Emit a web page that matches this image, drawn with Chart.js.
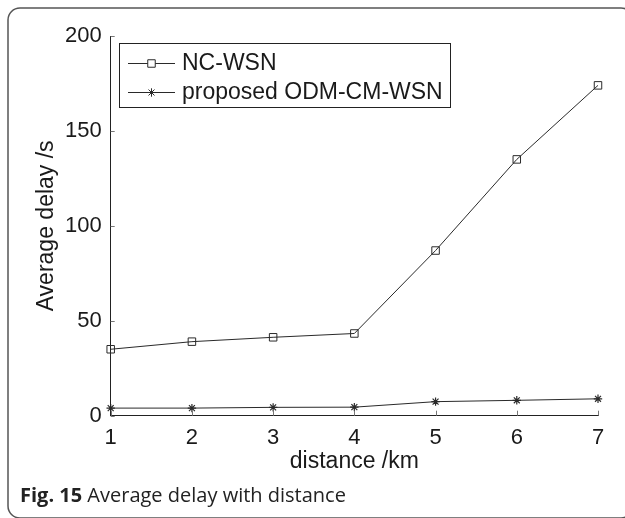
<!DOCTYPE html>
<html>
<head>
<meta charset="utf-8">
<script src="https://cdn.jsdelivr.net/npm/chart.js@4.4.1/dist/chart.umd.min.js"></script>
<style>
  html, body { margin: 0; padding: 0; background: #ffffff; }
  #wrap { width: 625px; height: 518px; position: relative; }
</style>
</head>
<body>
<div id="wrap"><canvas id="c" width="625" height="518"></canvas></div>
<script>
// ---- data ----
const distances = ['1', '2', '3', '4', '5', '6', '7'];
const ncWsn = [35, 39, 41.3, 43.3, 87, 135, 174];
const proposed = [4, 4, 4.4, 4.5, 7.4, 8.1, 8.9];
const seriesNames = ['NC-WSN', 'proposed ODM-CM-WSN'];
const yTicks = [0, 50, 100, 150, 200];
const xTitle = 'distance /km';
const yTitle = 'Average delay /s';
const captionBold = 'Fig. 15';
const captionText = ' Average delay with distance';

const FONT = 'Liberation Sans, Arial, Helvetica, sans-serif';
const LINE = '#2a2a2a';

const framePlugin = {
  id: 'frame',
  beforeDraw(chart) {
    const ctx = chart.ctx;
    ctx.save();
    ctx.fillStyle = '#ffffff';
    ctx.fillRect(0, 0, chart.width, chart.height);
    ctx.strokeStyle = '#555555';
    ctx.lineWidth = 1.5;
    const x0 = 8, y0 = 8, x1 = 633, y1 = 518, r = 12;
    ctx.beginPath();
    ctx.moveTo(x0 + r, y0);
    ctx.lineTo(x1 - r, y0);
    ctx.arcTo(x1, y0, x1, y0 + r, r);
    ctx.lineTo(x1, y1 - r);
    ctx.arcTo(x1, y1, x1 - r, y1, r);
    ctx.lineTo(x0 + r, y1);
    ctx.arcTo(x0, y1, x0, y1 - r, r);
    ctx.lineTo(x0, y0 + r);
    ctx.arcTo(x0, y0, x0 + r, y0, r);
    ctx.closePath();
    ctx.stroke();
    ctx.restore();
  },
  afterDraw(chart) {
    const ctx = chart.ctx;
    ctx.save();
    ctx.fillStyle = '#222222';
    ctx.textBaseline = 'alphabetic';
    ctx.textAlign = 'left';
    ctx.font = 'bold 20px "Open Sans", sans-serif';
    ctx.fillText(captionBold, 20, 502);
    const w = ctx.measureText(captionBold).width;
    ctx.font = '20px "Open Sans", sans-serif';
    ctx.fillText(captionText, 20 + w, 502);
    ctx.restore();
  }
};

const ticksPlugin = {
  id: 'innerTicks',
  afterDatasetsDraw(chart) {
    const ctx = chart.ctx;
    const xs = chart.scales.x, ys = chart.scales.y;
    const a = chart.chartArea;
    ctx.save();
    ctx.strokeStyle = '#777777';
    ctx.lineWidth = 1;
    ctx.beginPath();
    yTicks.forEach(v => {
      const py = Math.round(ys.getPixelForValue(v)) + 0.5;
      ctx.moveTo(a.left, py);
      ctx.lineTo(a.left + 4, py);
    });
    distances.forEach((d, i) => {
      const px = Math.round(xs.getPixelForValue(i)) + 0.5;
      ctx.moveTo(px, a.bottom);
      ctx.lineTo(px, a.bottom - 5);
    });
    ctx.stroke();
    ctx.restore();
  },
  afterDraw(chart) {
    // legend box
    const ctx = chart.ctx;
    const bx = 119, by = 43, bw = 331, bh = 64;
    ctx.save();
    ctx.fillStyle = '#ffffff';
    ctx.fillRect(bx, by, bw, bh);
    ctx.strokeStyle = '#222222';
    ctx.lineWidth = 1;
    ctx.strokeRect(bx + 0.5, by + 0.5, bw, bh);
    const rows = [63, 92];
    chart.data.datasets.forEach((ds, i) => {
      const y = rows[i];
      ctx.strokeStyle = LINE;
      ctx.lineWidth = 1;
      ctx.beginPath();
      ctx.moveTo(128, y + 0.5);
      ctx.lineTo(175, y + 0.5);
      ctx.stroke();
      Chart.helpers.drawPoint(ctx, {
        pointStyle: ds.pointStyle,
        radius: ds.pointRadius,
        borderWidth: 1,
        rotation: 0
      }, 151.5, y + 0.5);
      ctx.fillStyle = '#1a1a1a';
      ctx.font = '23px ' + FONT;
      ctx.textAlign = 'left';
      ctx.textBaseline = 'middle';
      ctx.fillText(ds.label, 182, y + 1);
    });
    ctx.restore();
  }
};

new Chart(document.getElementById('c'), {
  type: 'line',
  data: {
    labels: distances,
    datasets: [
      {
        label: seriesNames[0],
        data: ncWsn,
        borderColor: LINE,
        borderWidth: 1,
        pointStyle: 'rect',
        pointRadius: 5.3,
        pointBorderColor: LINE,
        pointBackgroundColor: 'rgba(0,0,0,0)',
        pointBorderWidth: 1,
        tension: 0,
        clip: false
      },
      {
        label: seriesNames[1],
        data: proposed,
        borderColor: LINE,
        borderWidth: 1,
        pointStyle: 'star',
        pointRadius: 4.2,
        pointBorderColor: LINE,
        pointBackgroundColor: 'rgba(0,0,0,0)',
        pointBorderWidth: 1.2,
        tension: 0,
        clip: false
      }
    ]
  },
  options: {
    responsive: false,
    animation: false,
    devicePixelRatio: 1,
    layout: { padding: { top: 36, right: 27, left: 0, bottom: 0 } },
    plugins: {
      legend: { display: false },
      tooltip: { enabled: false }
    },
    scales: {
      x: {
        type: 'category',
        offset: false,
        grid: { display: false, drawTicks: false },
        border: { display: true, color: '#222222', width: 1 },
        ticks: {
          color: '#1a1a1a',
          font: { family: FONT, size: 22 },
          padding: 9,
          maxRotation: 0,
          autoSkip: false
        },
        title: {
          display: true,
          text: xTitle,
          color: '#1a1a1a',
          font: { family: FONT, size: 23 },
          padding: { top: 0, bottom: 43 }
        },
        afterFit(scale) { scale.height = 102.3; }
      },
      y: {
        min: 0,
        max: 200,
        grid: { display: false, drawTicks: false },
        border: { display: true, color: '#222222', width: 1 },
        afterBuildTicks(scale) { scale.ticks = yTicks.map(v => ({ value: v })); },
        ticks: {
          color: '#1a1a1a',
          font: { family: FONT, size: 22 },
          padding: 9
        },
        title: {
          display: true,
          text: yTitle,
          color: '#1a1a1a',
          font: { family: FONT, size: 23 },
          padding: { top: 33, bottom: 0 }
        },
        afterFit(scale) { scale.width = 110.7; }
      }
    }
  },
  plugins: [framePlugin, ticksPlugin]
});
</script>
</body>
</html>
